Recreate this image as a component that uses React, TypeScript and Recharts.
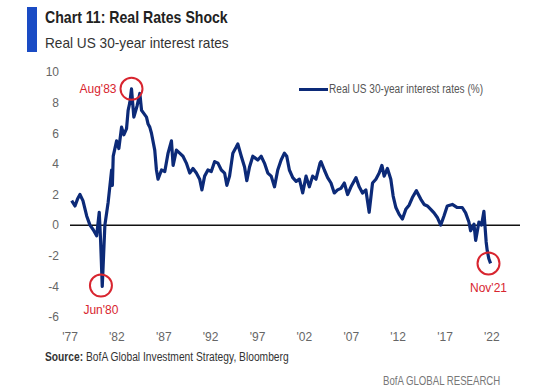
import { LineChart, Line, XAxis, YAxis, ReferenceLine, ReferenceDot } from 'recharts'

const years = [
  1977.18, 1977.53, 1977.8, 1978.06, 1978.38, 1978.78, 1979.13, 1979.48, 1979.84, 1980.12,
  1980.27, 1980.44, 1980.72, 1981.07, 1981.44, 1981.52, 1981.61, 1981.97, 1982.21, 1982.5,
  1982.74, 1983.03, 1983.2, 1983.38, 1983.56, 1983.81, 1984.16, 1984.45, 1984.63, 1984.87,
  1985.16, 1985.33, 1985.51, 1985.69, 1986.04, 1986.22, 1986.39, 1986.76, 1987.11, 1987.46,
  1987.82, 1988.0, 1988.35, 1988.7, 1989.05, 1989.41, 1989.77, 1990.12, 1990.48, 1990.83,
  1991.07, 1991.36, 1991.71, 1992.07, 1992.43, 1992.78, 1993.14, 1993.49, 1993.73, 1994.02,
  1994.37, 1994.73, 1994.9, 1995.27, 1995.62, 1995.86, 1996.15, 1996.5, 1997.03, 1997.39,
  1997.74, 1998.1, 1998.46, 1998.81, 1999.16, 1999.52, 1999.87, 2000.12, 2000.4, 2000.76,
  2001.12, 2001.47, 2001.82, 2002.18, 2002.53, 2002.88, 2003.24, 2003.67, 2003.77, 2004.13,
  2004.48, 2004.84, 2005.19, 2005.54, 2005.9, 2006.26, 2006.61, 2006.97, 2007.5, 2007.85,
  2008.2, 2008.56, 2008.91, 2009.27, 2009.63, 2009.98, 2010.27, 2010.51, 2010.86, 2011.22,
  2011.47, 2011.76, 2012.11, 2012.46, 2012.82, 2013.17, 2013.52, 2013.95, 2014.41, 2014.77,
  2015.12, 2015.48, 2015.83, 2016.18, 2016.54, 2016.89, 2017.24, 2017.78, 2018.31, 2018.84,
  2019.2, 2019.55, 2019.73, 2020.09, 2020.27, 2020.62, 2020.9, 2021.15, 2021.39, 2021.5,
  2021.68, 2021.86,
]

const rates = [
  1.6, 1.25, 1.7, 2.0, 1.6, 0.6, 0.0, -0.3, -0.7, 0.84,
  -1.1, -4.0, 0.0, 1.5, 3.6, 2.6, 4.5, 5.5, 5.0, 6.4,
  5.9, 6.3, 7.5, 8.0, 8.9, 7.05, 7.8, 8.6, 7.5, 7.3,
  7.05, 6.6, 6.4, 6.0, 4.9, 3.6, 3.0, 3.6, 3.5, 4.7,
  5.5, 3.9, 4.9, 4.7, 4.5, 4.05, 3.4, 3.7, 3.4, 3.0,
  2.3, 3.2, 3.6, 3.5, 4.15, 4.05, 3.6, 3.4, 2.6, 3.2,
  4.7, 5.1, 5.3, 4.5, 3.8, 2.9, 3.8, 4.5, 4.25, 4.5,
  4.05, 3.4, 3.2, 2.5, 3.6, 4.25, 4.7, 4.5, 3.6, 3.1,
  2.86, 3.0, 2.1, 3.2, 2.5, 3.2, 3.0, 4.05, 4.15, 3.6,
  3.1, 2.75, 2.1, 2.3, 2.4, 2.75, 2.0, 2.5, 3.1, 2.5,
  2.1, 2.3, 0.84, 2.75, 3.0, 3.4, 3.9, 3.2, 3.7, 3.0,
  1.9, 1.15, 0.7, 0.4, 1.03, 1.3, 1.8, 2.25, 1.7, 1.35,
  1.25, 1.03, 0.8, 0.5, 0.0, 0.6, 1.25, 1.35, 1.15, 1.15,
  0.8, 0.2, -0.37, 0.06, -1.0, 0.2, 0.0, 0.9, -1.1, -1.65,
  -2.2, -2.5,
]

const xTicks = [1977, 1982, 1987, 1992, 1997, 2002, 2007, 2012, 2017, 2022]
const yTicks = [-6, -4, -2, 0, 2, 4, 6, 8, 10]

// annotated points: [year, value, label]
const callouts: [number, number, string][] = [
  [1983.56, 8.9, "Aug'83"],
  [1980.3, -3.95, "Jun'80"],
  [2021.64, -2.5, "Nov'21"],
]

const data = years.map((y, i) => ({ year: y, rate: rates[i] }))

const FONT = "'Liberation Sans', Arial, sans-serif"
const NAVY = '#0c2a78'
const RED = '#d8252f'

// narrow text helper, the source font is a condensed sans
function Narrow({ left, top, size, scale, color, bold, children }: any) {
  return (
    <div
      style={{
        position: 'absolute',
        left,
        top,
        fontSize: size,
        color,
        fontWeight: bold ? 'bold' : 'normal',
        lineHeight: `${size + 4}px`,
        whiteSpace: 'nowrap',
        transform: `scaleX(${scale})`,
        transformOrigin: 'left top',
      }}
    >
      {children}
    </div>
  )
}

export default function App() {
  return (
    <div style={{ position: 'absolute', left: 0, top: 0, width: 552, height: 390, background: '#fff', fontFamily: FONT }}>
      <div style={{ position: 'absolute', left: 27, top: 7, width: 10, height: 45, background: '#1a4bc4' }} />
      <Narrow left={45} top={7} size={17} scale={0.83} color="#222" bold>
        Chart 11: Real Rates Shock
      </Narrow>
      <Narrow left={45} top={33} size={15} scale={0.91} color="#333">
        Real US 30-year interest rates
      </Narrow>

      <LineChart
        width={552}
        height={390}
        data={data}
        margin={{ top: 72, right: 32, bottom: 43, left: 30 }}
        style={{ position: 'absolute', left: 0, top: 0 }}
      >
        <XAxis
          dataKey="year"
          type="number"
          domain={[1977, 2025]}
          ticks={xTicks}
          tickFormatter={(v) => "'" + String(v).slice(2)}
          axisLine={false}
          tickLine={false}
          tickSize={0}
          tickMargin={15}
          height={30}
          tick={{ fill: '#666', fontSize: 12, fontFamily: FONT }}
        />
        <YAxis
          type="number"
          domain={[-6, 10]}
          ticks={yTicks}
          axisLine={false}
          tickLine={false}
          tickSize={0}
          tickMargin={11}
          width={40}
          tick={{ fill: '#666', fontSize: 12, fontFamily: FONT }}
        />
        <ReferenceLine y={0} stroke="#111" strokeWidth={1.5} />
        <Line
          dataKey="rate"
          stroke={NAVY}
          strokeWidth={3.2}
          strokeLinejoin="round"
          dot={false}
          isAnimationActive={false}
        />
        {callouts.map(([x, y, label], i) => (
          <ReferenceDot
            key={label}
            x={x}
            y={y}
            r={11}
            fill="none"
            stroke={RED}
            strokeWidth={2}
            label={{
              value: label,
              position: i === 0 ? 'left' : 'bottom',
              offset: i === 0 ? 4 : 9,
              fill: RED,
              fontSize: 12,
              fontFamily: FONT,
            }}
          />
        ))}
      </LineChart>

      <div style={{ position: 'absolute', left: 299, top: 88, width: 29, height: 3, background: NAVY }} />
      <Narrow left={329} top={81} size={12} scale={0.84} color="#555">
        Real US 30-year interest rates (%)
      </Narrow>

      <Narrow left={45} top={349} size={12.5} scale={0.82} color="#333">
        <b>Source:</b> BofA Global Investment Strategy, Bloomberg
      </Narrow>
      <Narrow left={383} top={372} size={13} scale={0.74} color="#777">
        BofA GLOBAL RESEARCH
      </Narrow>
    </div>
  )
}
